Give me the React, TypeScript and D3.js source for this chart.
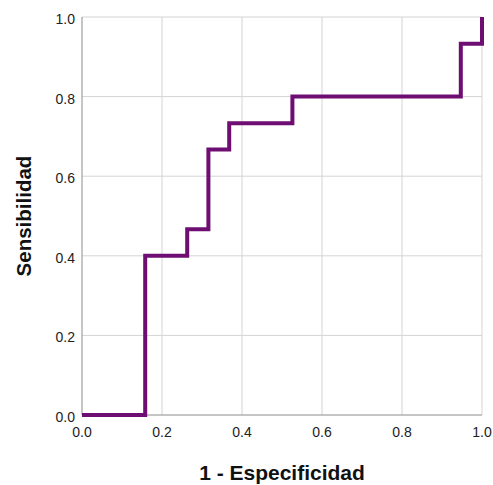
import React, { useEffect, useRef } from "react";
import * as d3 from "d3";

// ROC curve step points (1 - especificidad, sensibilidad)
const fpr = [0, 0.158, 0.158, 0.263, 0.263, 0.316, 0.316, 0.368, 0.368, 0.526, 0.526, 0.947, 0.947, 1.0, 1.0];
const tpr = [0, 0, 0.4, 0.4, 0.467, 0.467, 0.667, 0.667, 0.733, 0.733, 0.8, 0.8, 0.933, 0.933, 1.0];
const ticks = [0, 0.2, 0.4, 0.6, 0.8, 1.0];
const xTitle = "1 - Especificidad";
const yTitle = "Sensibilidad";

export default function App() {
  const ref = useRef<SVGSVGElement>(null);

  useEffect(() => {
    const svg = d3.select(ref.current);
    svg.selectAll("*").remove();

    const margin = { top: 17, left: 82 };
    const width = 400,
      height = 398;

    const x = d3.scaleLinear().domain([0, 1]).range([0, width]);
    const y = d3.scaleLinear().domain([0, 1]).range([height, 0]);

    const g = svg
      .append("g")
      .attr("transform", "translate(" + margin.left + "," + margin.top + ")");

    // grid
    g.append("g")
      .selectAll("line")
      .data(ticks.slice(1))
      .enter()
      .append("line")
      .attr("x1", (d) => x(d))
      .attr("x2", (d) => x(d))
      .attr("y1", 0)
      .attr("y2", height)
      .attr("stroke", "#d4d4d4")
      .attr("stroke-width", 1);
    g.append("g")
      .selectAll("line")
      .data(ticks.slice(1))
      .enter()
      .append("line")
      .attr("x1", 0)
      .attr("x2", width)
      .attr("y1", (d) => y(d))
      .attr("y2", (d) => y(d))
      .attr("stroke", "#d4d4d4")
      .attr("stroke-width", 1);

    // axes lines
    g.append("line")
      .attr("x1", 0)
      .attr("x2", 0)
      .attr("y1", 0)
      .attr("y2", height)
      .attr("stroke", "#8c8c8c");
    g.append("line")
      .attr("x1", 0)
      .attr("x2", width)
      .attr("y1", height)
      .attr("y2", height)
      .attr("stroke", "#8c8c8c");

    const fmt = d3.format(".1f");
    g.append("g")
      .selectAll("text")
      .data(ticks)
      .enter()
      .append("text")
      .attr("x", -7)
      .attr("y", (d) => y(d))
      .attr("dy", "0.5em")
      .attr("text-anchor", "end")
      .style("font-family", "Liberation Sans, Arial, sans-serif")
      .style("font-size", "14px")
      .style("fill", "#222")
      .text((d) => fmt(d));
    g.append("g")
      .selectAll("text")
      .data(ticks)
      .enter()
      .append("text")
      .attr("x", (d) => x(d))
      .attr("y", height + 22)
      .attr("text-anchor", "middle")
      .style("font-family", "Liberation Sans, Arial, sans-serif")
      .style("font-size", "14px")
      .style("fill", "#222")
      .text((d) => fmt(d));

    // curve
    const line = d3
      .line<number>()
      .x((d, i) => x(fpr[i]))
      .y((d, i) => y(tpr[i]));
    g.append("path")
      .datum(tpr)
      .attr("d", line)
      .attr("fill", "none")
      .attr("stroke", "#6f0e72")
      .attr("stroke-width", 4)
      .attr("stroke-linejoin", "miter");

    // titles
    svg
      .append("text")
      .attr("x", margin.left + width / 2)
      .attr("y", 480)
      .attr("text-anchor", "middle")
      .style("font-family", "Liberation Sans, Arial, sans-serif")
      .style("font-size", "21px")
      .style("font-weight", "bold")
      .style("fill", "#111")
      .text(xTitle);
    svg
      .append("text")
      .attr("transform", "translate(31," + (margin.top + height / 2) + ") rotate(-90)")
      .attr("text-anchor", "middle")
      .style("font-family", "Liberation Sans, Arial, sans-serif")
      .style("font-size", "20.5px")
      .style("font-weight", "bold")
      .style("fill", "#111")
      .text(yTitle);
  }, []);

  return (
    <svg
      ref={ref}
      width={493}
      height={485}
      style={{ position: "fixed", left: 0, top: 0, background: "#fff" }}
    ></svg>
  );
}
